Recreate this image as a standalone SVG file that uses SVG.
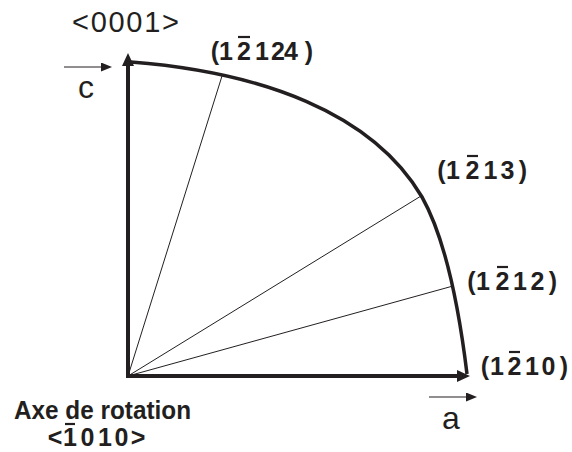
<svg xmlns="http://www.w3.org/2000/svg" width="572" height="452" viewBox="0 0 572 452">
<style>
.reg{font-family:"Liberation Sans",Arial,sans-serif;fill:#231f20}
.bold{font-family:"Liberation Sans",Arial,sans-serif;font-weight:bold;fill:#231f20;font-size:25px;text-anchor:middle}
.bar{stroke:#231f20;stroke-width:2.2}
.axis{stroke:#231f20;stroke-width:4;fill:none}
.curve{stroke:#231f20;stroke-width:3.5;fill:none}
.thin{stroke:#231f20;stroke-width:1;fill:none}
.small{stroke:#231f20;stroke-width:1.2;fill:none}
</style>
<defs>
<marker id="bigArrow" markerUnits="userSpaceOnUse" markerWidth="13" markerHeight="12" refX="0" refY="6" orient="auto">
<path d="M0,0 L13,6 L0,12 z" fill="#231f20"/>
</marker>
<marker id="smallArrow" markerUnits="userSpaceOnUse" markerWidth="11" markerHeight="9" refX="0" refY="4.5" orient="auto">
<path d="M0,0 L11,4.5 L0,9 z" fill="#231f20"/>
</marker>
</defs>
<rect width="572" height="452" fill="#ffffff"/>
<g id="connectors">
<path class="thin" d="M128,376 L222,76"/>
<path class="thin" d="M128,376 L421,196"/>
<path class="thin" d="M128,376 L453,286"/>
<path class="axis" d="M128,376 V66" marker-end="url(#bigArrow)"/>
<path class="axis" d="M126,376 H457" marker-end="url(#bigArrow)"/>
<path class="curve" d="M131,62 C260,72 372,112 422,197 C445,238 458,300 467,374"/>
<path class="small" d="M64,67 H101" marker-end="url(#smallArrow)"/>
<path class="small" d="M429,397 H466" marker-end="url(#smallArrow)"/>
</g>
<g id="label-c-axis">
<text class="reg" x="72" y="32" font-size="29" textLength="107" lengthAdjust="spacing">&lt;0001&gt;</text>
<text class="reg" x="78" y="98" font-size="32">c</text>
</g>
<g id="label-a-axis">
<text class="reg" x="442" y="429" font-size="32">a</text>
</g>
<g id="node-12124">
<text class="bold" x="215 226 244 262 278 291 309" y="60">(12124)</text>
<line class="bar" x1="238" y1="37" x2="250" y2="37"/>
</g>
<g id="node-1213">
<text class="bold" x="441.5 453 472.5 490.5 507.5 523" y="179">(1213)</text>
<line class="bar" x1="467" y1="156" x2="478" y2="156"/>
</g>
<g id="node-1212">
<text class="bold" x="471.5 483 502.5 520 537.5 553" y="290">(1212)</text>
<line class="bar" x1="497" y1="267" x2="508" y2="267"/>
</g>
<g id="node-1210">
<text class="bold" x="485 497 514.5 532 548.5 564" y="375">(1210)</text>
<line class="bar" x1="509" y1="352" x2="520" y2="352"/>
</g>
<g id="node-axis">
<text class="bold" x="14" y="419" style="text-anchor:start" textLength="177" lengthAdjust="spacingAndGlyphs">Axe de rotation</text>
<text class="bold" x="55 70 87.5 105 121.5 138" y="446">&lt;1010&gt;</text>
<line class="bar" x1="65" y1="424" x2="75" y2="424"/>
</g>
</svg>
